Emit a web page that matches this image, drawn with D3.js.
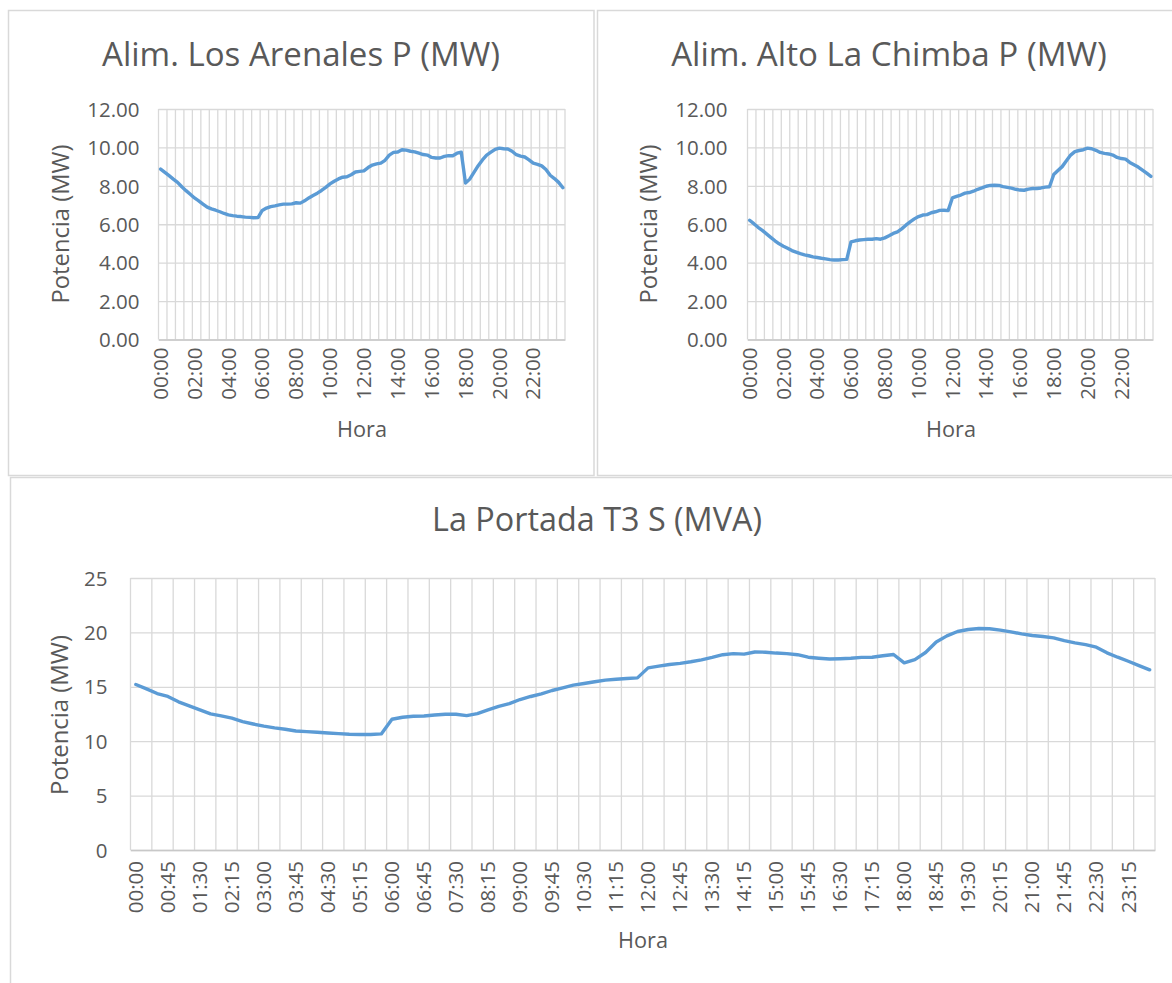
<!DOCTYPE html>
<html><head><meta charset="utf-8">
<script src="https://cdn.jsdelivr.net/npm/d3@7"></script>
<style>
body{margin:0;background:#fff}
svg{display:block}
text{font-family:'Open Sans',sans-serif;fill:#595959}
</style>
</head><body>
<svg id="c" width="1172" height="983"></svg>
<script>
const times = ["00:00","00:15","00:30","00:45","01:00","01:15","01:30","01:45","02:00","02:15","02:30","02:45",
"03:00","03:15","03:30","03:45","04:00","04:15","04:30","04:45","05:00","05:15","05:30","05:45",
"06:00","06:15","06:30","06:45","07:00","07:15","07:30","07:45","08:00","08:15","08:30","08:45",
"09:00","09:15","09:30","09:45","10:00","10:15","10:30","10:45","11:00","11:15","11:30","11:45",
"12:00","12:15","12:30","12:45","13:00","13:15","13:30","13:45","14:00","14:15","14:30","14:45",
"15:00","15:15","15:30","15:45","16:00","16:15","16:30","16:45","17:00","17:15","17:30","17:45",
"18:00","18:15","18:30","18:45","19:00","19:15","19:30","19:45","20:00","20:15","20:30","20:45",
"21:00","21:15","21:30","21:45","22:00","22:15","22:30","22:45","23:00","23:15","23:30","23:45"];

const arenalesP = [8.87,8.70,8.53,8.35,8.18,7.95,7.75,7.56,7.37,7.22,
7.05,6.89,6.80,6.73,6.65,6.56,6.49,6.45,6.42,6.40,
6.37,6.36,6.34,6.35,6.72,6.84,6.92,6.96,7.01,7.05,
7.05,7.06,7.12,7.10,7.22,7.37,7.50,7.62,7.76,7.92,
8.10,8.24,8.36,8.45,8.47,8.58,8.72,8.75,8.78,8.95,
9.08,9.14,9.18,9.33,9.60,9.74,9.76,9.88,9.86,9.80,
9.77,9.70,9.63,9.60,9.48,9.45,9.45,9.53,9.57,9.57,
9.70,9.75,8.14,8.35,8.70,9.05,9.35,9.60,9.75,9.90,
9.96,9.93,9.92,9.80,9.62,9.55,9.50,9.35,9.18,9.12,
9.04,8.85,8.55,8.38,8.18,7.90];

const chimbaP = [6.21,6.03,5.84,5.68,5.50,5.32,5.14,4.98,4.86,4.75,
4.63,4.55,4.47,4.41,4.36,4.30,4.27,4.23,4.20,4.16,
4.14,4.14,4.16,4.17,5.08,5.14,5.18,5.20,5.22,5.22,
5.25,5.22,5.29,5.40,5.52,5.60,5.76,5.95,6.12,6.28,
6.40,6.48,6.50,6.60,6.65,6.72,6.73,6.71,7.37,7.45,
7.52,7.62,7.65,7.72,7.82,7.89,7.98,8.02,8.03,8.02,
7.96,7.92,7.88,7.82,7.78,7.77,7.83,7.86,7.86,7.89,
7.93,7.95,8.59,8.80,9.00,9.30,9.60,9.78,9.84,9.88,
9.96,9.93,9.85,9.74,9.69,9.66,9.60,9.48,9.42,9.39,
9.22,9.10,8.98,8.82,8.66,8.49];

const portadaS = [15.21,14.81,14.38,14.11,13.62,13.25,12.88,12.51,12.33,12.12,
11.80,11.58,11.38,11.22,11.10,10.94,10.88,10.82,10.76,10.70,
10.64,10.61,10.61,10.67,12.02,12.20,12.29,12.32,12.41,12.48,
12.48,12.35,12.54,12.88,13.21,13.46,13.83,14.11,14.35,14.66,
14.91,15.15,15.30,15.46,15.61,15.70,15.76,15.82,16.74,16.90,
17.05,17.15,17.30,17.48,17.70,17.95,18.05,18.00,18.20,18.18,
18.10,18.05,17.95,17.72,17.63,17.55,17.58,17.62,17.70,17.72,
17.85,17.97,17.20,17.50,18.15,19.12,19.68,20.08,20.27,20.36,
20.33,20.21,20.05,19.87,19.72,19.62,19.50,19.25,19.04,18.88,
18.64,18.12,17.72,17.35,16.95,16.56];

const topYTicks = [0,2,4,6,8,10,12];
const bottomYTicks = [0,5,10,15,20,25];
const chartTitles = ["Alim. Los Arenales P (MW)","Alim. Alto La Chimba P (MW)","La Portada T3 S (MVA)"];
const yAxisTitle = "Potencia (MW)";
const xAxisTitle = "Hora";

const svg = d3.select("#c");
svg.append("rect").attr("width",1172).attr("height",983).attr("fill","#fff");

// panel borders
const border = svg.append("g").attr("stroke","#d9d9d9").attr("stroke-width",1.5).attr("fill","none");
border.append("rect").attr("x",8.5).attr("y",10.5).attr("width",585.5).attr("height",465);
border.append("path").attr("d","M1175,10.5H597.5V475.5H1175");
border.append("path").attr("d","M1175,477.5H10.5V990");

const TEXT = "#595959", GRID = "#d9d9d9", LINE = "#5B9BD5";

function fit(sel, target){
  const w = sel.node().getComputedTextLength();
  const fs = +sel.attr("font-size");
  sel.attr("font-size", fs*target/w);
}

function drawChart(cfg){
  const g = svg.append("g");
  const x = d3.scaleBand().domain(times).range([cfg.x0, cfg.x1]).padding(0);
  const y = d3.scaleLinear().domain([0, cfg.yMax]).range([cfg.y1, cfg.y0]);

  // horizontal gridlines + y labels
  const ya = g.append("g").attr("transform",`translate(${cfg.x0},0)`)
    .call(d3.axisLeft(y).tickValues(cfg.yTicks).tickSize(-(cfg.x1-cfg.x0)).tickSizeOuter(0)
      .tickPadding(cfg.yPad).tickFormat(cfg.yFmt));
  ya.select(".domain").remove();
  ya.selectAll(".tick line").attr("stroke",GRID).attr("stroke-width",1.3);
  ya.selectAll(".tick text").attr("font-size",cfg.tickFs).attr("fill",TEXT)
    .attr("font-family","'Open Sans',sans-serif").attr("dy","0.35em");

  // vertical gridlines every two categories (band boundaries)
  const gridCats = times.filter((d,i)=>i%2===0);
  const vg = g.append("g").attr("stroke",GRID).attr("stroke-width",1.3);
  vg.selectAll("line").data(gridCats).join("line")
    .attr("x1",d=>x(d)).attr("x2",d=>x(d)).attr("y1",cfg.y0).attr("y2",cfg.y1);
  vg.append("line").attr("x1",cfg.x1).attr("x2",cfg.x1).attr("y1",cfg.y0).attr("y2",cfg.y1);

  // x axis
  const xa = g.append("g").attr("transform",`translate(0,${cfg.y1})`)
    .call(d3.axisBottom(x).tickValues(times.filter((d,i)=>i%cfg.every===0)).tickSize(0).tickSizeOuter(0).tickPadding(0));
  xa.select(".domain").attr("stroke","#c8c8c8").attr("stroke-width",1.5);
  xa.selectAll(".tick text").attr("font-size",cfg.tickFs).attr("fill",TEXT)
    .attr("font-family","'Open Sans',sans-serif")
    .attr("y",0).attr("x",0).attr("dy","0.35em")
    .attr("text-anchor","end")
    .attr("transform",`translate(0,${cfg.xPad}) rotate(-90)`);

  // line
  g.append("path").datum(cfg.values)
    .attr("fill","none").attr("stroke",LINE).attr("stroke-width",3.4)
    .attr("stroke-linejoin","round").attr("stroke-linecap","round")
    .attr("d", d3.line().x((d,i)=>x(times[i])+x.bandwidth()/2).y(d=>y(d)));

  // titles
  const t = g.append("text").attr("x",cfg.titleX).attr("y",cfg.titleY).attr("text-anchor","middle")
    .attr("font-size",30).attr("fill",TEXT).text(cfg.title);
  fit(t, cfg.titleW);
  const yt = g.append("text").attr("transform",`translate(${cfg.ytX},${cfg.ytY}) rotate(-90)`)
    .attr("text-anchor","middle").attr("dy","0.35em").attr("font-size",22).attr("fill",TEXT).text(yAxisTitle);
  fit(yt, cfg.ytW);
  const xt = g.append("text").attr("x",cfg.xtX).attr("y",cfg.xtY).attr("text-anchor","middle")
    .attr("font-size",22).attr("fill",TEXT).text(xAxisTitle);
  fit(xt, 50);
}

drawChart({values:arenalesP, title:chartTitles[0], x0:158.5, x1:565, y0:109, y1:339.5, yMax:12,
  yTicks:topYTicks, yFmt:d3.format(".2f"), yPad:19, tickFs:20.5, every:8, xPad:8,
  titleX:301, titleY:65.5, titleW:398, ytX:61, ytY:224, ytW:159, xtX:362, xtY:437});
drawChart({values:chimbaP, title:chartTitles[1], x0:747.5, x1:1153, y0:109, y1:339.5, yMax:12,
  yTicks:topYTicks, yFmt:d3.format(".2f"), yPad:20, tickFs:20.5, every:8, xPad:8,
  titleX:889, titleY:65.5, titleW:436, ytX:649, ytY:224, ytW:159, xtX:951, xtY:437});
drawChart({values:portadaS, title:chartTitles[2], x0:130.5, x1:1155, y0:578, y1:850, yMax:25,
  yTicks:bottomYTicks, yFmt:d3.format("d"), yPad:23, tickFs:20.5, every:3, xPad:11,
  titleX:597, titleY:531, titleW:330, ytX:60, ytY:715, ytW:160, xtX:643, xtY:948});
</script>
</body></html>
